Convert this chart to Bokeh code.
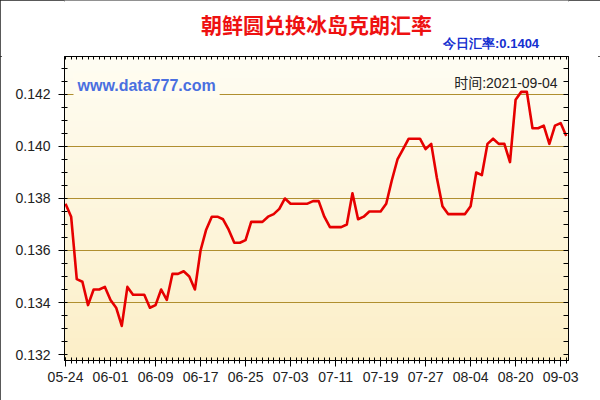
import numpy as np
from bokeh.plotting import figure
from bokeh.layouts import column
from bokeh.models import FixedTicker, LinearAxis, Label, Range1d, PrintfTickFormatter
from bokeh.embed import file_html
from bokeh.resources import INLINE

# ---- data ----
rates = [
    0.1378, 0.1373, 0.1349, 0.1348, 0.1339, 0.1345, 0.1345, 0.1346, 0.1341, 0.1338,
    0.1331, 0.1346, 0.1343, 0.1343, 0.1343, 0.1338, 0.1339, 0.1345, 0.1341, 0.1351,
    0.1351, 0.1352, 0.1350, 0.1345, 0.1360, 0.1368, 0.1373, 0.1373, 0.1372, 0.1368,
    0.1363, 0.1363, 0.1364, 0.1371, 0.1371, 0.1371, 0.1373, 0.1374, 0.1376, 0.1380,
    0.1378, 0.1378, 0.1378, 0.1378, 0.1379, 0.1379, 0.1373, 0.1369, 0.1369, 0.1369,
    0.1370, 0.1382, 0.1372, 0.1373, 0.1375, 0.1375, 0.1375, 0.1378, 0.1387, 0.1395,
    0.1399, 0.1403, 0.1403, 0.1403, 0.1399, 0.1401, 0.1388, 0.1377, 0.1374, 0.1374,
    0.1374, 0.1374, 0.1377, 0.1390, 0.1389, 0.1401, 0.1403, 0.1401, 0.1401, 0.1394,
    0.1418, 0.1421, 0.1421, 0.1407, 0.1407, 0.1408, 0.1401, 0.1408, 0.1409, 0.1404,
]
tick_labels = ["05-24", "06-01", "06-09", "06-17", "06-25", "07-03",
               "07-11", "07-19", "07-27", "08-04", "08-20", "09-03"]
label_step = 8
y_ticks = [0.132, 0.134, 0.136, 0.138, 0.140, 0.142]
title_text = "朝鲜圆兑换冰岛克朗汇率"
today_text = "今日汇率:0.1404"
time_text = "时间:2021-09-04"
site_text = "www.data777.com"

n = len(rates)
xs = list(range(n))
x0, x1 = -0.18, 89.4
y0, y1 = 0.13177, 0.14346
font = "Liberation Sans"
cjk = "Noto Sans CJK SC"
mixed = "Liberation Sans, Noto Sans CJK SC"

# ---- header strip (titles) ----
head = figure(width=600, height=56, output_backend="svg", toolbar_location=None,
              x_range=Range1d(0, 600), y_range=Range1d(56, 0),
              min_border=0, min_border_left=0, min_border_right=0,
              min_border_top=0, min_border_bottom=0,
              background_fill_color="white", border_fill_color="white")
head.axis.visible = False
head.grid.visible = False
head.outline_line_color = None
head.add_layout(Label(x=300, y=23, text=title_text, text_align="center", text_baseline="middle",
                      text_font=cjk, text_font_style="bold", text_font_size="21px",
                      text_color="#EE1111"))
head.add_layout(Label(x=565, y=43, text=today_text, text_align="right", text_baseline="middle",
                      text_font=font, text_font_style="bold", text_font_size="13px",
                      text_color="#1530D0"))

# ---- chart ----
p = figure(width=600, height=344, output_backend="svg", toolbar_location=None,
           x_range=Range1d(x0, x1), y_range=Range1d(y0, y1),
           min_border_left=64, min_border_right=32, min_border_top=0, min_border_bottom=40,
           background_fill_color="#FEF8E2", border_fill_color="white")
p.outline_line_color = "black"

# gradient background of the plot area
H = 304
img = np.empty((H, 1), dtype=np.uint32)
view = img.view(dtype=np.uint8).reshape((H, 1, 4))
top_c = np.array([255, 253, 243])
bot_c = np.array([252, 239, 200])
for r in range(H):
    t = r / (H - 1)
    c = bot_c * (1 - t) + top_c * t
    view[r, 0, 0] = int(c[0]); view[r, 0, 1] = int(c[1]); view[r, 0, 2] = int(c[2]); view[r, 0, 3] = 255
p.image_rgba(image=[img], x=x0, y=y0, dw=x1 - x0, dh=y1 - y0, level="image")

# grid
p.xgrid.visible = False
p.ygrid.ticker = FixedTicker(ticks=y_ticks[1:])
p.ygrid.grid_line_color = "#B08F2F"
p.ygrid.grid_line_width = 1

major_x = list(range(0, n, label_step))[:len(tick_labels)]
minor_y = [round(y_ticks[0] - 0.0005 + 0.0005 * k, 4) for k in range(26)]

# bottom axis
xa = p.xaxis[0]
xa.ticker = FixedTicker(ticks=major_x, minor_ticks=xs)
xa.major_label_overrides = {i: lab for i, lab in zip(major_x, tick_labels)}
xa.major_tick_in = 3
xa.major_tick_out = 6
xa.minor_tick_in = 3
xa.minor_tick_out = 3
xa.major_label_standoff = 5
xa.major_label_text_font = font
xa.major_label_text_font_size = "14px"
xa.major_label_text_color = "#222222"
xa.axis_line_color = "black"

# left axis
ya = p.yaxis[0]
ya.ticker = FixedTicker(ticks=y_ticks, minor_ticks=minor_y)
ya.formatter = PrintfTickFormatter(format="%.3f")
ya.major_tick_in = 0
ya.major_tick_out = 6
ya.minor_tick_in = 3
ya.minor_tick_out = 3
ya.major_label_standoff = 8
ya.major_label_text_font = font
ya.major_label_text_font_size = "14px"
ya.major_label_text_color = "#222222"
ya.axis_line_color = "black"

# top axis (ticks only, no labels)
ta = LinearAxis(ticker=FixedTicker(ticks=[], minor_ticks=xs),
                major_label_standoff=0,
                major_tick_in=0, major_tick_out=0, minor_tick_in=3, minor_tick_out=0,
                axis_line_color="black")
p.add_layout(ta, "above")

# right axis (ticks only, no labels)
ra = LinearAxis(ticker=FixedTicker(ticks=[], minor_ticks=minor_y),
                major_label_standoff=0,
                major_tick_in=0, major_tick_out=0, minor_tick_in=5, minor_tick_out=0,
                axis_line_color="black")
p.add_layout(ra, "right")

# the rate line
p.line(xs, rates, line_color="#E60000", line_width=2.6, line_join="round")

# texts inside the plot
p.add_layout(Label(x=1.42, y=0.14235, text=site_text, text_align="left", text_baseline="middle",
                   text_font=font, text_font_style="bold", text_font_size="16px",
                   text_color="#4A6FE0", background_fill_color="#FFFCEF", padding=4))
p.add_layout(Label(x=87.47, y=0.14246, text=time_text, text_align="right", text_baseline="middle",
                   text_font=mixed, text_font_size="14px", text_color="#222222"))

layout = column(head, p, spacing=0)
layout.styles = {"outline": "2px solid #222", "outline-offset": "-2px"}

open("out.html", "w").write(file_html(layout, INLINE))
